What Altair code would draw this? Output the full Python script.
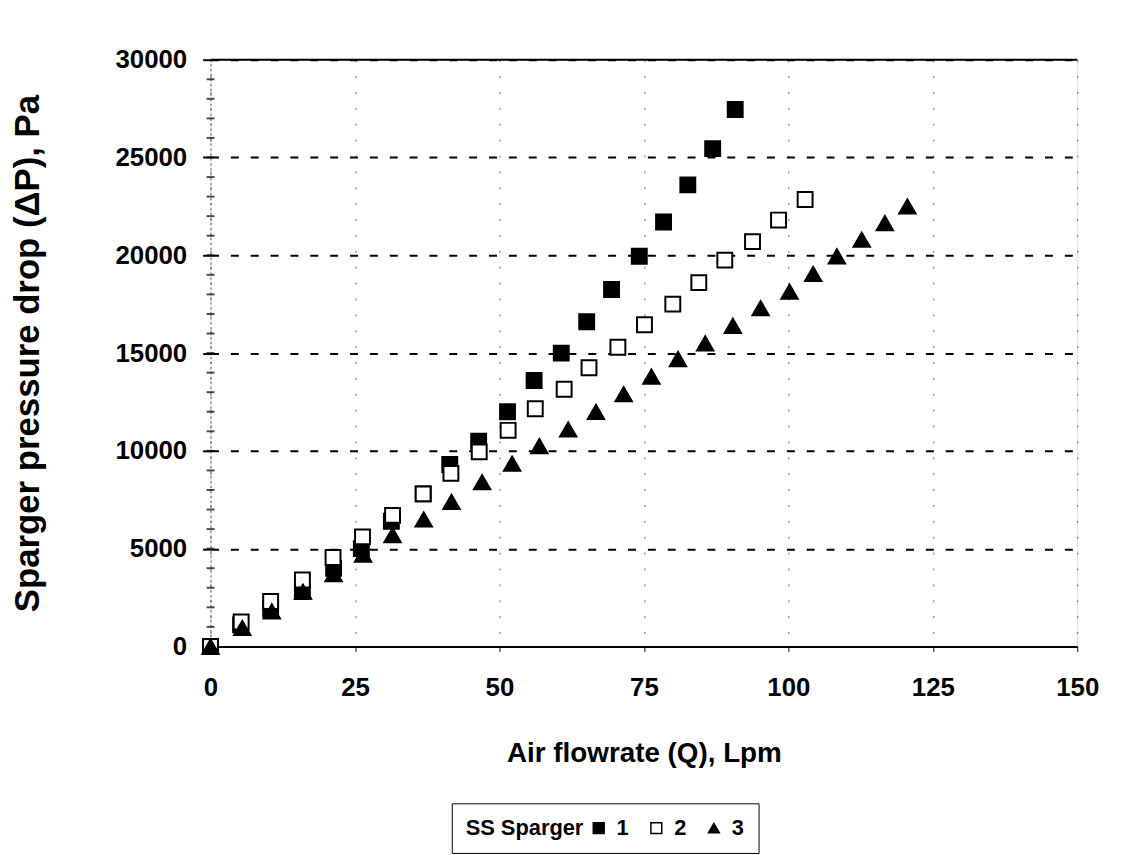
import altair as alt
import pandas as pd

# Series 1 (filled squares)
s1_x = [0, 5.2, 10.4, 15.9, 21.3, 26.1, 31.3, 36.8, 41.4, 46.4, 51.4, 56.0, 60.7, 65.1, 69.4, 74.2, 78.4, 82.6, 86.9, 90.8]
s1_y = [0, 1100, 1900, 2800, 4000, 5000, 6400, 7800, 9300, 10500, 12000, 13600, 15000, 16600, 18250, 19950, 21700, 23600, 25450, 27450]
# Series 2 (open squares)
s2_x = [0, 5.3, 10.4, 15.9, 21.2, 26.3, 31.5, 36.8, 41.6, 46.5, 51.5, 56.2, 61.2, 65.5, 70.5, 75.1, 80.0, 84.5, 89.0, 93.8, 98.3, 102.9]
s2_y = [0, 1250, 2300, 3400, 4550, 5600, 6700, 7800, 8850, 9950, 11050, 12150, 13150, 14250, 15300, 16450, 17500, 18600, 19750, 20700, 21800, 22850]
# Series 3 (filled triangles)
s3_x = [0, 5.5, 10.6, 16.0, 21.3, 26.4, 31.5, 36.9, 41.7, 47.0, 52.2, 56.9, 61.9, 66.7, 71.5, 76.3, 80.9, 85.6, 90.4, 95.2, 100.2, 104.3, 108.4, 112.7, 116.7, 120.6]
s3_y = [0, 950, 1800, 2800, 3700, 4700, 5700, 6500, 7400, 8400, 9350, 10250, 11100, 12000, 12900, 13800, 14700, 15500, 16400, 17300, 18150, 19050, 19950, 20800, 21650, 22500]

series_names = ["1", "2", "3"]
x_ticks = [0, 25, 50, 75, 100, 125, 150]
y_ticks = [0, 5000, 10000, 15000, 20000, 25000, 30000]
minor_y = [v for v in range(1000, 30000, 1000)]

FONT = "Liberation Sans"

df_sq = pd.concat([
    pd.DataFrame({"flow": s1_x, "dp": s1_y, "series": "1"}),
    pd.DataFrame({"flow": s2_x, "dp": s2_y, "series": "2"}),
], ignore_index=True)
df_tri = pd.DataFrame({"flow": s3_x, "dp": s3_y, "series": "3"})

df_minor = pd.DataFrame({"flow": [0] * len(minor_y), "dp": minor_y})
df_top = pd.DataFrame({"flow": [0], "flow2": [150], "dp": [30000]})

x_scale = alt.Scale(domain=[0, 150], nice=False, zero=False)
y_scale = alt.Scale(domain=[0, 30000], nice=False)

x_axis = alt.Axis(
    values=x_ticks, title="Air flowrate (Q), Lpm",
    labelFont=FONT, labelFontSize=26, labelFontWeight="bold", labelColor="black",
    labelPadding=23, labelFlush=False, labelOverlap=False,
    tickSize=5, tickColor="black", tickWidth=1,
    domainColor="black", domainWidth=2,
    grid=True, gridDash=[2, 14], gridColor="#666666", gridWidth=1,
    titleFont=FONT, titleFontSize=28, titleFontWeight="bold", titleColor="black",
    titleY=108, titleBaseline="middle",
)
y_axis = alt.Axis(
    values=y_ticks, format="d", title="Sparger pressure drop (\u0394P), Pa",
    labelFont=FONT, labelFontSize=26, labelFontWeight="bold", labelColor="black",
    labelPadding=16, labelFlush=False, labelOverlap=False,
    tickSize=8, tickColor="black", tickWidth=2,
    domainColor="#555555", domainWidth=1, domainDash=[2, 3],
    grid=True, gridDash=[8, 12], gridColor="black", gridWidth=2,
    titleFont=FONT, titleFontSize=35, titleFontWeight="bold", titleColor="black",
    titleX=-184, titleBaseline="middle", titleAngle=270,
)

x_enc = alt.X("flow:Q", scale=x_scale, axis=x_axis)
y_enc = alt.Y("dp:Q", scale=y_scale, axis=y_axis)

legend = alt.Legend(
    orient="none", legendX=243, legendY=749, direction="horizontal",
    title="SS Sparger", titleOrient="left",
    titleFont=FONT, titleFontSize=22, titleFontWeight="bold", titleColor="black",
    titlePadding=4,
    labelFont=FONT, labelFontSize=22, labelFontWeight="bold", labelColor="black",
    labelOffset=7, columnPadding=16,
    symbolSize=120, symbolStrokeWidth=1.5,
    strokeColor="black", padding=14,
)

shape_enc = alt.Shape("series:N", scale=alt.Scale(domain=series_names, range=["square", "square", "triangle-up"]), legend=legend)
fill_enc = alt.Fill("series:N", scale=alt.Scale(domain=series_names, range=["black", "white", "black"]), legend=legend)
stroke_enc = alt.Stroke("series:N", scale=alt.Scale(domain=series_names, range=["black", "black", "black"]), legend=legend)

squares = alt.Chart(df_sq).mark_point(
    filled=True, strokeWidth=2, opacity=1, size=225
).encode(x=x_enc, y=y_enc, shape=shape_enc, fill=fill_enc, stroke=stroke_enc)

triangles = alt.Chart(df_tri).mark_point(
    filled=True, strokeWidth=1.5, opacity=1, size=300
).encode(x=x_enc, y=y_enc, shape=shape_enc, fill=fill_enc, stroke=stroke_enc)

minor = alt.Chart(df_minor).mark_tick(
    orient="horizontal", size=8, thickness=2, color="black"
).encode(x=x_enc, y=y_enc)

top = alt.Chart(df_top).mark_rule(color="black", strokeWidth=2).encode(
    x=x_enc, x2="flow2:Q", y=y_enc
)

chart = alt.layer(minor, top, squares, triangles).properties(
    width=873, height=591,
    autosize="none",
    padding={"left": 204, "top": 49, "right": 37, "bottom": 207},
).configure_view(stroke=None).configure(background="white")

chart.save("out.html", embed_options={"renderer": "svg", "actions": False})
